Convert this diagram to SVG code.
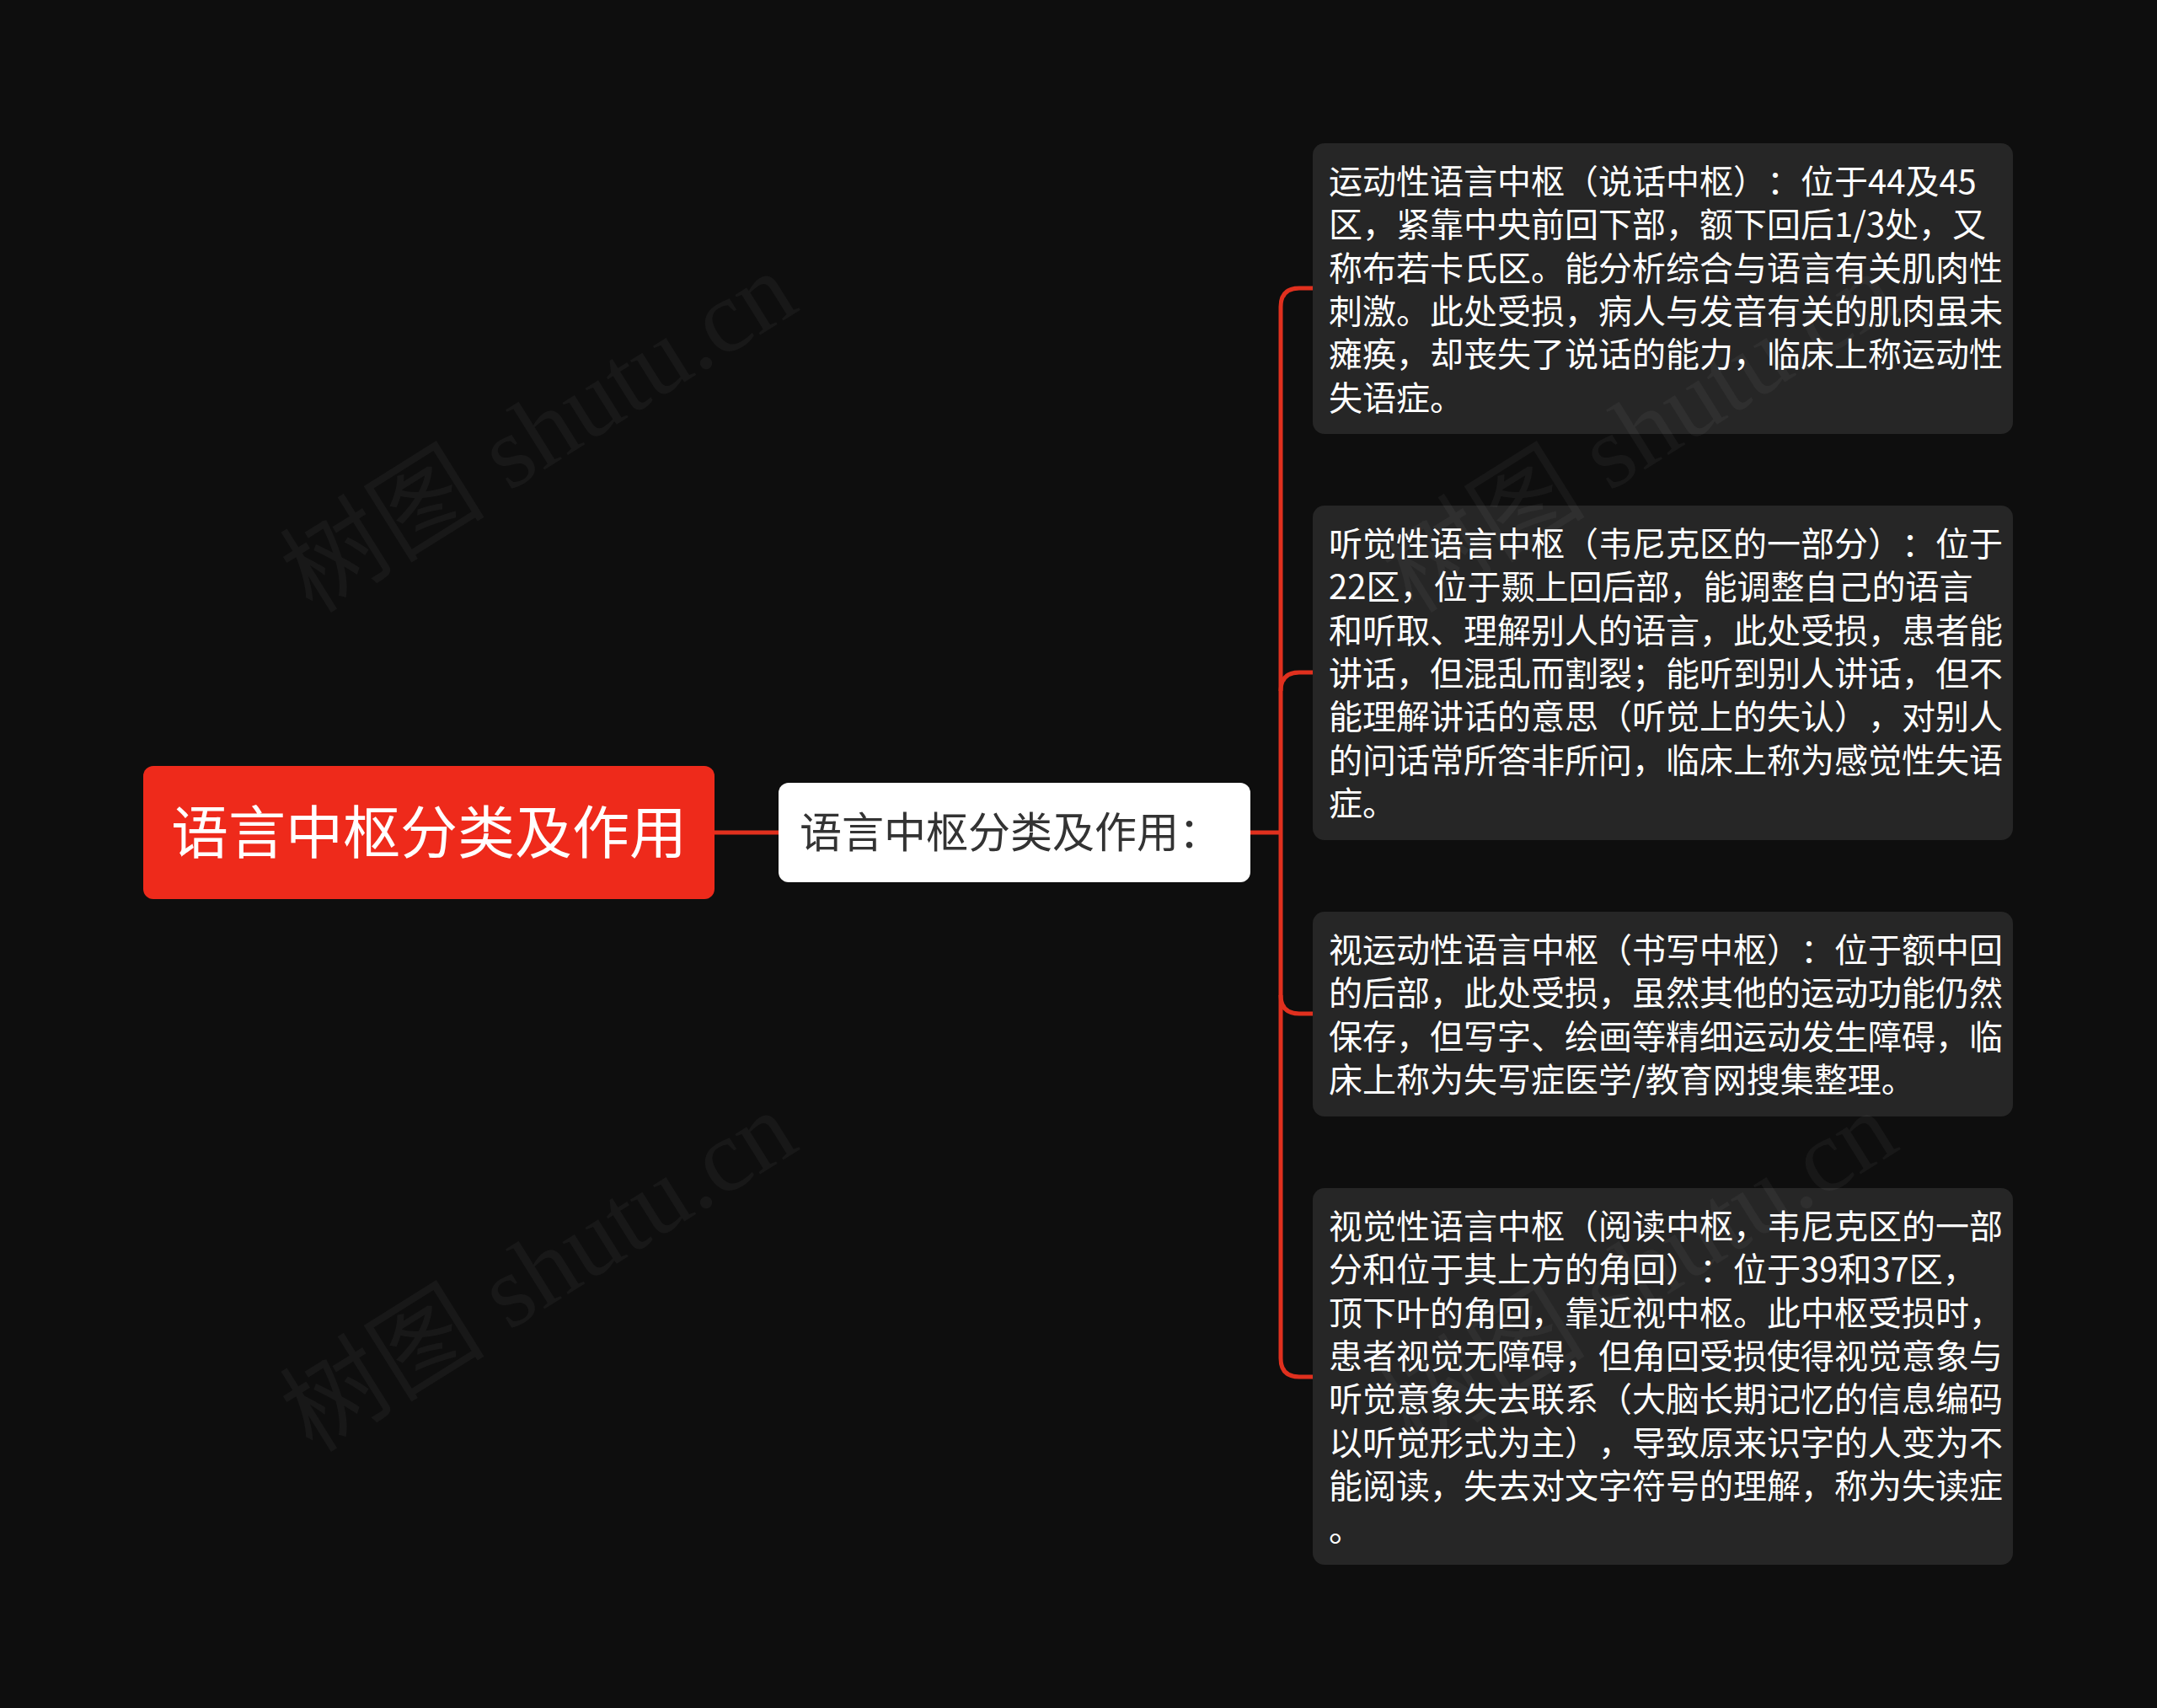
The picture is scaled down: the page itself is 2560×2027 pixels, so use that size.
<svg xmlns="http://www.w3.org/2000/svg" width="2560" height="2027" viewBox="0 0 2560 2027">
<style>
text{text-spacing-trim:space-all}
.bg{fill:#0e0e0e}
.link{fill:none;stroke:#e0301e;stroke-width:5}
.root rect{fill:#ee2a1b}
.root text{fill:#ffffff;font-family:"Noto Sans CJK SC","Noto Sans",sans-serif;font-size:68px}
.mid rect{fill:#ffffff}
.mid text{fill:#333333;font-family:"Noto Sans CJK SC","Noto Sans",sans-serif;font-size:50px}
.leaf rect{fill:#262626}
.leaf text{fill:#ffffff;font-family:"Noto Sans CJK SC","Noto Sans",sans-serif;font-size:40px}
.wm{fill:#ffffff;fill-opacity:0.045;font-family:"Liberation Serif","Noto Sans CJK SC",serif;font-size:122px}
</style>
<rect class="bg" x="0" y="0" width="2560" height="2027"/>

<g id="connectors">
<path class="link" d="M848,988 L924,988"/>
<path class="link" d="M1484,988 L1520,988"/>
<path class="link" d="M1558,342 L1542,342 Q1520,342 1520,364 L1520,1612 Q1520,1634 1542,1634 L1558,1634"/>
<path class="link" d="M1558,798 L1542,798 Q1520,798 1520,820"/>
<path class="link" d="M1558,1203 L1542,1203 Q1520,1203 1520,1181"/>
</g>

<g id="root" class="root">
<rect x="170" y="909" width="678" height="158" rx="12"/>
<text x="509" y="1013" text-anchor="middle">语言中枢分类及作用</text>
</g>

<g id="mid" class="mid">
<rect x="924" y="929" width="560" height="118" rx="12"/>
<text x="949" y="1006">语言中枢分类及作用：</text>
</g>

<g id="node1" class="leaf">
<rect x="1558" y="170" width="831" height="345" rx="14"/>
<text x="1577" y="230">运动性语言中枢（说话中枢）：位于44及45</text>
<text x="1577" y="281">区，紧靠中央前回下部，额下回后1/3处，又</text>
<text x="1577" y="333">称布若卡氏区。能分析综合与语言有关肌肉性</text>
<text x="1577" y="384">刺激。此处受损，病人与发音有关的肌肉虽未</text>
<text x="1577" y="435">瘫痪，却丧失了说话的能力，临床上称运动性</text>
<text x="1577" y="487">失语症。</text>
</g>

<g id="node2" class="leaf">
<rect x="1558" y="600" width="831" height="397" rx="14"/>
<text x="1577" y="660">听觉性语言中枢（韦尼克区的一部分）：位于</text>
<text x="1577" y="711">22区，位于颞上回后部，能调整自己的语言</text>
<text x="1577" y="763">和听取、理解别人的语言，此处受损，患者能</text>
<text x="1577" y="814">讲话，但混乱而割裂；能听到别人讲话，但不</text>
<text x="1577" y="865">能理解讲话的意思（听觉上的失认），对别人</text>
<text x="1577" y="917">的问话常所答非所问，临床上称为感觉性失语</text>
<text x="1577" y="968">症。</text>
</g>

<g id="node3" class="leaf">
<rect x="1558" y="1082" width="831" height="243" rx="14"/>
<text x="1577" y="1142">视运动性语言中枢（书写中枢）：位于额中回</text>
<text x="1577" y="1193">的后部，此处受损，虽然其他的运动功能仍然</text>
<text x="1577" y="1245">保存，但写字、绘画等精细运动发生障碍，临</text>
<text x="1577" y="1296">床上称为失写症医学/教育网搜集整理。</text>
</g>

<g id="node4" class="leaf">
<rect x="1558" y="1410" width="831" height="447" rx="14"/>
<text x="1577" y="1470">视觉性语言中枢（阅读中枢，韦尼克区的一部</text>
<text x="1577" y="1521">分和位于其上方的角回）：位于39和37区，</text>
<text x="1577" y="1573">顶下叶的角回，靠近视中枢。此中枢受损时，</text>
<text x="1577" y="1624">患者视觉无障碍，但角回受损使得视觉意象与</text>
<text x="1577" y="1675">听觉意象失去联系（大脑长期记忆的信息编码</text>
<text x="1577" y="1727">以听觉形式为主），导致原来识字的人变为不</text>
<text x="1577" y="1778">能阅读，失去对文字符号的理解，称为失读症</text>
<text x="1577" y="1829">。</text>
</g>

<g id="watermarks">
<text class="wm" text-anchor="middle" transform="translate(640,514) rotate(-32)" y="40">树图 shutu.cn</text>
<text class="wm" text-anchor="middle" transform="translate(640,1510) rotate(-32)" y="40">树图 shutu.cn</text>
<text class="wm" text-anchor="middle" transform="translate(1946,514) rotate(-32)" y="40">树图 shutu.cn</text>
<text class="wm" text-anchor="middle" transform="translate(1946,1510) rotate(-32)" y="40">树图 shutu.cn</text>
</g>
</svg>
